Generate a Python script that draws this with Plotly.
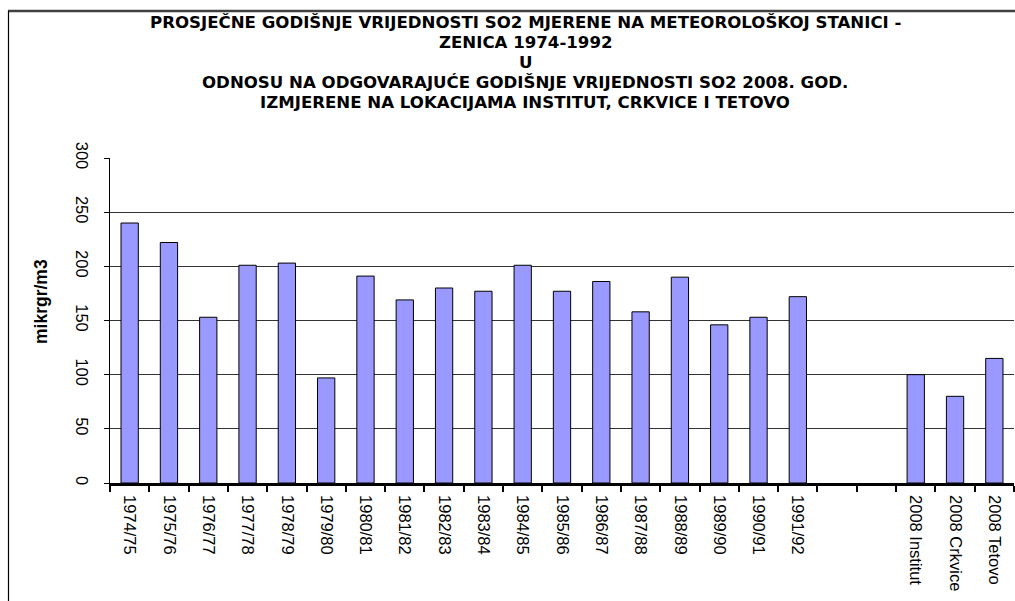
import plotly.graph_objects as go

categories = ["1974/75", "1975/76", "1976/77", "1977/78", "1978/79", "1979/80",
              "1980/81", "1981/82", "1982/83", "1983/84", "1984/85", "1985/86",
              "1986/87", "1987/88", "1988/89", "1989/90", "1990/91", "1991/92",
              " ", "  ", "2008 Institut", "2008 Crkvice", "2008 Tetovo"]
so2_values = [240, 222, 153, 201, 203, 97, 191, 169, 180, 177, 201, 177,
              186, 158, 190, 146, 153, 172, None, None, 100, 80, 115]

title_lines = [
    "PROSJEČNE GODIŠNJE VRIJEDNOSTI SO2 MJERENE NA METEOROLOŠKOJ STANICI -",
    "ZENICA 1974-1992",
    "U",
    "ODNOSU NA ODGOVARAJUĆE GODIŠNJE VRIJEDNOSTI SO2 2008. GOD.",
    "IZMJERENE NA LOKACIJAMA INSTITUT, CRKVICE I TETOVO",
]
y_title = "mikrgr/m3"
y_ticks = [0, 50, 100, 150, 200, 250, 300]

W, H = 1015, 601
L, R, T, B = 110, 1, 158, 118
pw, ph = W - L - R, H - T - B


def px(x):
    return (x - L) / pw


def py(y):
    return (H - B - y) / ph


fig = go.Figure()
fig.add_trace(go.Bar(
    x=categories, y=so2_values,
    marker=dict(color="#9999FF", line=dict(color="black", width=1)),
    showlegend=False,
))

font_main = "Liberation Sans, Arial, sans-serif"

annotations = []
title_y = [23, 43, 62, 82, 102]
for line, yy in zip(title_lines, title_y):
    annotations.append(dict(
        text="<b>" + line + "</b>", xref="paper", yref="paper",
        x=px(525), y=py(yy), xanchor="center", yanchor="middle",
        showarrow=False,
        font=dict(family="DejaVu Sans, sans-serif", size=16.6, color="black"),
    ))
annotations.append(dict(
    text="<b>" + y_title + "</b>", xref="paper", yref="paper",
    x=px(41), y=py(302), xanchor="center", yanchor="middle",
    textangle=-90, showarrow=False,
    font=dict(family=font_main, size=17.5, color="black"),
))

shapes = [
    dict(type="line", xref="paper", yref="paper", x0=px(8), x1=px(1016),
         y0=py(11), y1=py(11), line=dict(color="#404040", width=2.5)),
    dict(type="line", xref="paper", yref="paper", x0=px(8.5), x1=px(8.5),
         y0=py(11), y1=py(610), line=dict(color="black", width=1.2)),
]

fig.update_layout(
    width=W, height=H,
    margin=dict(l=L, r=R, t=T, b=B, pad=0),
    paper_bgcolor="white", plot_bgcolor="white",
    bargap=0.56,
    annotations=annotations,
    shapes=shapes,
    font=dict(family=font_main, color="black"),
)
fig.update_xaxes(
    type="category", tickson="boundaries", ticks="outside", ticklen=6,
    tickwidth=2, tickcolor="black", showline=True, linecolor="black",
    linewidth=2.5, tickangle=90, showgrid=False,
    tickfont=dict(family=font_main, size=16.5, color="black"),
    ticklabelstandoff=6,
)
fig.update_yaxes(
    range=[0, 300], tickvals=y_ticks, ticks="outside", ticklen=5,
    tickcolor="black", showline=True, linecolor="black", linewidth=1,
    showgrid=True, gridcolor="#333333", gridwidth=1, tickangle=90,
    tickfont=dict(family=font_main, size=16.5, color="black"),
    zeroline=False, ticklabelstandoff=8,
)

fig.write_html(
    "out.html",
    config={"displayModeBar": False},
    post_script="document.body.style.margin='0';"
                "document.body.style.overflow='hidden';",
)
